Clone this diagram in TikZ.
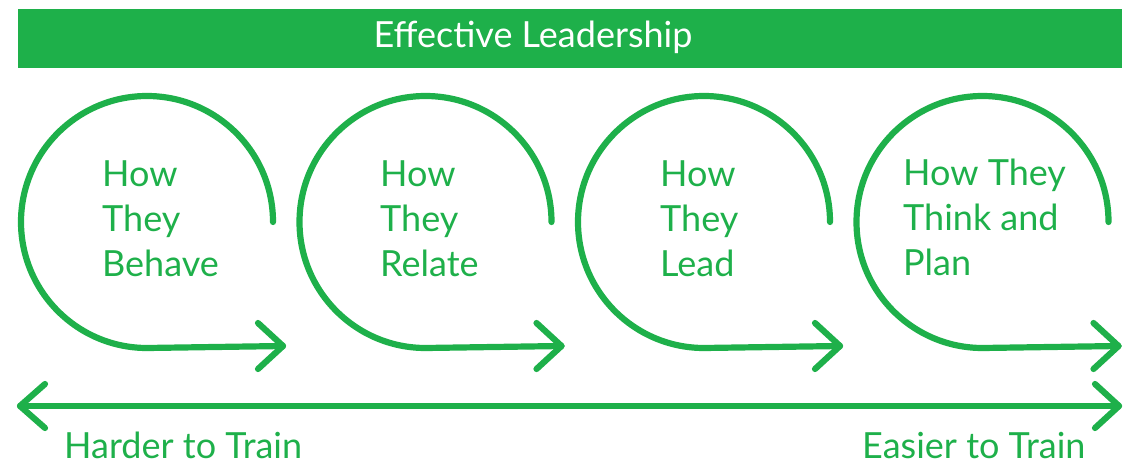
\documentclass[tikz,border=0pt]{standalone}
\usepackage{fontspec}
\setmainfont{Lato}
\definecolor{lgreen}{HTML}{1EB04A}
\begin{document}
\begin{tikzpicture}[x=1pt,y=-1pt,
  gline/.style={draw=lgreen,line width=6.2pt,line cap=round,line join=round},
  steptext/.style={anchor=base west,align=left,inner sep=0pt,text=lgreen,font=\fontsize{36}{45}\selectfont},
  foottext/.style={anchor=base west,inner sep=0pt,text=lgreen,font=\fontsize{36}{40}\selectfont}]
\useasboundingbox (0,0) rectangle (1123,465);
% banner
\fill[lgreen] (18,9) rectangle (1122,68);
\node[anchor=base,inner sep=0pt,text=white,font=\fontsize{36}{40}\selectfont] (title) at (533,48) {Effective Leadership};
% loops
\foreach \n/\dx in {1/0,2/278.5,3/557,4/835.5}{
  \begin{scope}[xshift=\dx pt]
    \coordinate (start\n) at (273,222);
    \coordinate (tip\n) at (283,346);
    \draw[gline] (start\n) arc[start angle=0,end angle=270,radius=126pt] -- (tip\n);
    \draw[gline] (258,323) -- (tip\n) -- (258,369);
  \end{scope}
}
\node[steptext] (behave) at (102,276) {How\\They\\Behave};
\node[steptext] (relate) at (380,276) {How\\They\\Relate};
\node[steptext] (lead) at (660,276) {How\\They\\Lead};
\node[steptext] (plan) at (903,275) {How They\\Think and\\Plan};
% bottom scale
\coordinate (hard) at (20,406);
\coordinate (easy) at (1119,406);
\draw[gline] (hard) -- (easy);
\draw[gline] (45,384) -- (hard) -- (45,428);
\draw[gline] (1095,384) -- (easy) -- (1095,428);
\node[foottext] (hardlbl) at (64,458) {Harder to Train};
\node[foottext] (easylbl) at (862,458) {Easier to Train};
\end{tikzpicture}
\end{document}
